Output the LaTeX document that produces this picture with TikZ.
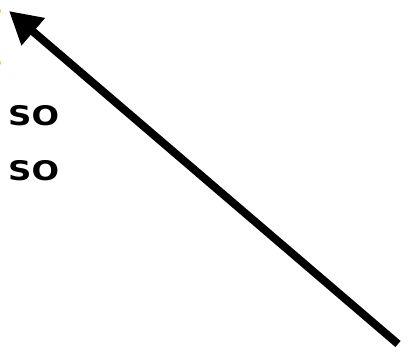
\documentclass[tikz,border=0pt]{standalone}
\usepackage{fontspec}
\setmainfont{DejaVu Sans}
\usepackage{tikz}
\usetikzlibrary{arrows.meta,positioning}

\begin{document}
\begin{tikzpicture}[
  x=1pt, y=-1pt,
  word/.style={font=\fontsize{27}{30}\selectfont\bfseries, inner sep=0pt, anchor=west,
    xscale=1.2, transform shape},
  dot/.style={circle, fill=orange!70!red!50, inner sep=0pt, minimum size=10pt},
  pointer/.style={-{Triangle[length=32pt, width=34pt]}, line width=8pt, draw=black}
]
\useasboundingbox (0,0) rectangle (410,359);
\node[dot] (dotA) at (-4,11) {};
\node[dot] (dotB) at (-4,63) {};
\node[word] (soA) at (8,116) {SO};
\node[word] (soB) at (8,171) {SO};
\coordinate (tail) at (398,344);
\coordinate (head) at (9,11);
\draw[pointer] (tail) -- (head);
\end{tikzpicture}
\end{document}
